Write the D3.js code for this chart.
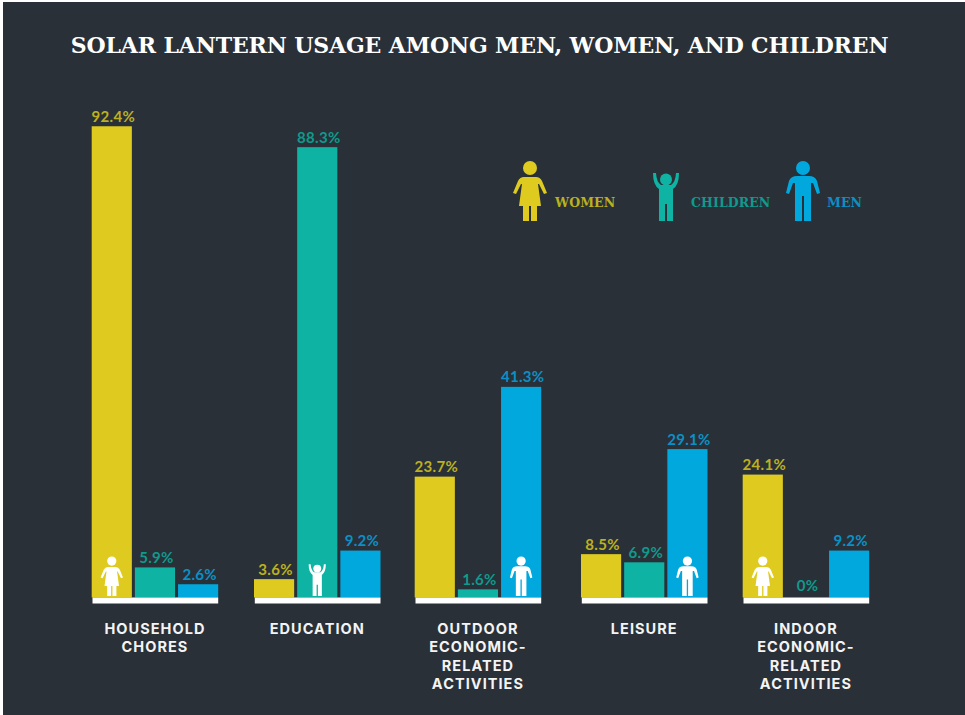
<!DOCTYPE html>
<html>
<head>
<meta charset="utf-8">
<script src="https://cdn.jsdelivr.net/npm/d3@7/dist/d3.min.js"></script>
<style>
  html, body { margin: 0; padding: 0; background: #fff; }
  svg { display: block; }
</style>
</head>
<body>
<svg id="chart" width="965" height="715"></svg>
<script>
// Share of lantern use per activity, in percent
const categories = ["Household chores", "Education", "Outdoor economic-related activities", "Leisure", "Indoor economic-related activities"];
const categoryLines = [
  ["HOUSEHOLD", "CHORES"],
  ["EDUCATION"],
  ["OUTDOOR", "ECONOMIC-", "RELATED", "ACTIVITIES"],
  ["LEISURE"],
  ["INDOOR", "ECONOMIC-", "RELATED", "ACTIVITIES"]
];
const seriesNames = ["WOMEN", "CHILDREN", "MEN"];
const women = [92.4, 3.6, 23.7, 8.5, 24.1];
const children = [5.9, 88.3, 1.6, 6.9, 0];
const men = [2.6, 9.2, 41.3, 29.1, 9.2];
const seriesValues = [women, children, men];
const barColors = ["#dfcb1f", "#0fb3a3", "#00a8de"];
const labelColors = ["#bdb01f", "#0f9a8d", "#0b90c6"];

// Pictogram outlines on a local grid, one per series
const glyphs = {
  WOMEN: { w: 34, h: 59, head: [17, 6, 7],
    body: "M11 15H23Q27 15 29 19L34 31L31 32L26 22H25L28 44H24V59H18V44H16V59H10V44H6L9 22H8L3 32L0 31L5 19Q7 15 11 15Z" },
  CHILDREN: { w: 26, h: 49, head: [13, 7.5, 6],
    body: "M0 1H3Q3.5 10 8 13H18Q22.5 10 23 1H26Q26 13 20 17V49H14V32H12V49H6V17Q0 13 0 1Z" },
  MEN: { w: 34, h: 59, head: [17, 6, 7],
    body: "M11 14H23Q29 14 31 19L34 31L31 32L27 21H25V59H18V34H16V59H9V21H7L3 32L0 31L3 19Q5 14 11 14Z" }
};

const svg = d3.select("#chart");
const frame = { left: 3, top: 2, bg: "#293038" };
const base = 597.5;
const groupWidth = 126.5;

const x = d3.scaleOrdinal().domain(categories).range([91.7, 254, 414.7, 581, 742.7]);
const xSeries = d3.scaleBand().domain(seriesNames).range([0, groupWidth]).paddingInner(0.07);
const y = d3.scaleLinear().domain([0, 100]).range([base, 87.5]);
const color = d3.scaleOrdinal().domain(seriesNames).range(barColors);
const labelColor = d3.scaleOrdinal().domain(seriesNames).range(labelColors);

const slabFont = "'DejaVu Serif', serif";
const sansFont = "Inter, 'Noto Sans', sans-serif";
const labelFont = "Lato, 'Open Sans', sans-serif";

svg.append("rect")
  .attr("x", frame.left).attr("y", frame.top)
  .attr("width", 965 - frame.left).attr("height", 715 - frame.top)
  .attr("fill", frame.bg);

svg.append("text")
  .attr("x", 479.5).attr("y", 53)
  .attr("text-anchor", "middle")
  .attr("font-family", slabFont).attr("font-weight", 700)
  .attr("font-size", 22).attr("fill", "#ffffff")
  .attr("letter-spacing", -0.13)
  .text("SOLAR LANTERN USAGE AMONG MEN, WOMEN, AND CHILDREN");

function drawGlyph(parent, name, px, py, k, fill) {
  const g = parent.append("g").attr("transform", `translate(${px},${py}) scale(${k})`).attr("fill", fill);
  const s = glyphs[name];
  g.append("circle").attr("cx", s.head[0]).attr("cy", s.head[1]).attr("r", s.head[2]);
  g.append("path").attr("d", s.body);
}

// One group per activity: bars, value labels, base strip, pictogram, caption
const groups = svg.selectAll("g.group").data(categories).join("g")
  .attr("class", "group")
  .attr("transform", d => `translate(${x(d)},0)`);

groups.each(function (cat, ci) {
  const g = d3.select(this);
  const rows = seriesNames.map((name, si) => ({ name, value: seriesValues[si][ci] }));

  g.selectAll("rect.bar").data(rows).join("rect")
    .attr("class", "bar")
    .attr("x", d => xSeries(d.name))
    .attr("y", d => y(d.value))
    .attr("width", xSeries.bandwidth())
    .attr("height", d => base - y(d.value))
    .attr("fill", d => color(d.name));

  g.selectAll("text.value").data(rows).join("text")
    .attr("class", "value")
    .attr("x", d => xSeries(d.name) + xSeries.bandwidth() / 2 + 1.5)
    .attr("y", d => y(d.value) - (d.value === 0 ? 7 : 4.5))
    .attr("text-anchor", "middle")
    .attr("font-family", labelFont).attr("font-weight", 700)
    .attr("font-size", 15).attr("letter-spacing", 0.3)
    .attr("fill", d => labelColor(d.name))
    .text(d => d.value + "%");

  g.append("rect")
    .attr("x", 0.8).attr("y", base)
    .attr("width", groupWidth - 0.8).attr("height", 6)
    .attr("fill", "#ffffff");

  const top = rows.reduce((a, b) => (b.value > a.value ? b : a));
  const k = 0.66;
  const s = glyphs[top.name];
  drawGlyph(g, top.name,
    xSeries(top.name) + xSeries.bandwidth() / 2 - s.w * k / 2,
    base - 1.5 - s.h * k, k, "#ffffff");

  g.append("text")
    .attr("text-anchor", "middle")
    .attr("font-family", sansFont).attr("font-weight", 700)
    .attr("font-size", 14.5).attr("letter-spacing", 1.05)
    .attr("fill", "#f4f4f4")
    .selectAll("tspan").data(categoryLines[ci]).join("tspan")
    .attr("x", groupWidth / 2)
    .attr("y", (d, i) => 633.5 + i * 18.6)
    .text(d => d);
});

// Legend: pictogram with its series name
const legendAt = { WOMEN: [513, 162, 555], CHILDREN: [653, 172, 691], MEN: [786, 162, 827] };
seriesNames.forEach(name => {
  const [gx, gy, tx] = legendAt[name];
  drawGlyph(svg, name, gx, gy, 1, color(name));
  svg.append("text")
    .attr("x", tx).attr("y", 207)
    .attr("font-family", slabFont).attr("font-weight", 700)
    .attr("font-size", 12.5).attr("letter-spacing", 0.1)
    .attr("fill", labelColor(name))
    .text(name);
});
</script>
</body>
</html>
